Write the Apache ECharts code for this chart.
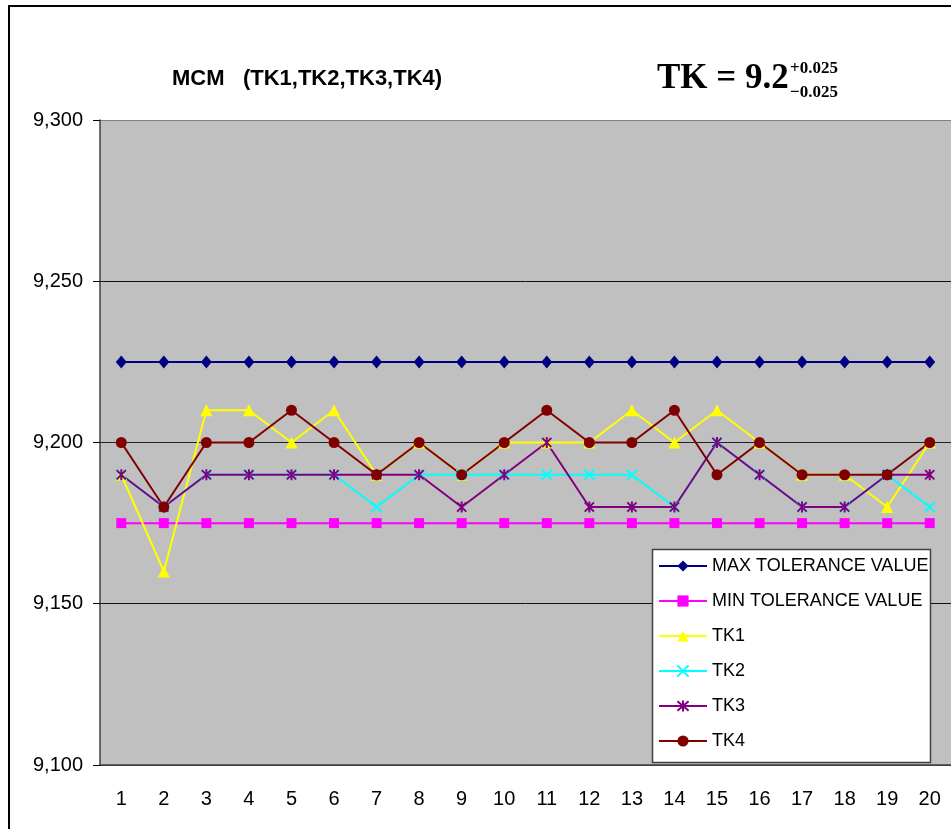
<!DOCTYPE html>
<html>
<head>
<meta charset="utf-8">
<script src="https://cdn.jsdelivr.net/npm/echarts@6/dist/echarts.min.js"></script>
<style>
  html, body { margin: 0; padding: 0; background: #fff; }
  #chart { width: 951px; height: 829px; }
</style>
</head>
<body>
<div id="chart"></div>
<script>
  // measurement points 1..20
  const categories = ['1', '2', '3', '4', '5', '6', '7', '8', '9', '10',
    '11', '12', '13', '14', '15', '16', '17', '18', '19', '20']
  const maxTolerance = [9.225, 9.225, 9.225, 9.225, 9.225, 9.225, 9.225, 9.225, 9.225, 9.225,
    9.225, 9.225, 9.225, 9.225, 9.225, 9.225, 9.225, 9.225, 9.225, 9.225]
  const minTolerance = [9.175, 9.175, 9.175, 9.175, 9.175, 9.175, 9.175, 9.175, 9.175, 9.175,
    9.175, 9.175, 9.175, 9.175, 9.175, 9.175, 9.175, 9.175, 9.175, 9.175]
  const tk1 = [9.19, 9.16, 9.21, 9.21, 9.20, 9.21, 9.19, 9.20, 9.19, 9.20,
    9.20, 9.20, 9.21, 9.20, 9.21, 9.20, 9.19, 9.19, 9.18, 9.20]
  const tk2 = [9.19, 9.18, 9.19, 9.19, 9.19, 9.19, 9.18, 9.19, 9.19, 9.19,
    9.19, 9.19, 9.19, 9.18, 9.20, 9.19, 9.18, 9.18, 9.19, 9.18]
  const tk3 = [9.19, 9.18, 9.19, 9.19, 9.19, 9.19, 9.19, 9.19, 9.18, 9.19,
    9.20, 9.18, 9.18, 9.18, 9.20, 9.19, 9.18, 9.18, 9.19, 9.19]
  const tk4 = [9.20, 9.18, 9.20, 9.20, 9.21, 9.20, 9.19, 9.20, 9.19, 9.20,
    9.21, 9.20, 9.20, 9.21, 9.19, 9.20, 9.19, 9.19, 9.19, 9.20]

  const sans = "'Liberation Sans', Arial, sans-serif"
  const serif = "'Liberation Serif', 'Times New Roman', serif"

  const crossPath = 'path://M0,0L10,10M10,0L0,10'
  const starPath = 'path://M0,0L10,10M10,0L0,10M5,-1L5,11'

  const lineSeries = (name, data, color, symbol, size, stroked) => ({
    name: name,
    type: 'line',
    data: data,
    symbol: symbol,
    symbolSize: size,
    symbolKeepAspect: true,
    lineStyle: { color: color, width: 2 },
    itemStyle: stroked
      ? { color: color, borderColor: color, borderWidth: 2 }
      : { color: color, borderWidth: 0 }
  })

  const chart = echarts.init(document.getElementById('chart'), null, { renderer: 'canvas' })
  const option = {
    animation: false,
    backgroundColor: '#fff',
    title: {
      text: 'MCM   (TK1,TK2,TK3,TK4)',
      left: 172,
      top: 68,
      padding: 0,
      textStyle: { fontFamily: sans, fontWeight: 'bold', fontSize: 22, color: '#000' }
    },
    grid: {
      left: 100,
      top: 120,
      width: 854,
      height: 645,
      show: true,
      backgroundColor: '#C0C0C0',
      borderWidth: 0
    },
    legend: {
      orient: 'vertical',
      left: 658,
      top: 556,
      padding: 0,
      itemWidth: 48,
      itemHeight: 14,
      itemGap: 15,
      z: 5,
      textStyle: { fontFamily: sans, fontSize: 18, color: '#000', lineHeight: 20 }
    },
    xAxis: {
      type: 'category',
      data: categories,
      boundaryGap: true,
      axisLine: { lineStyle: { color: '#404040', width: 1.5 } },
      axisTick: { alignWithLabel: false, interval: 0, length: 7, lineStyle: { color: '#000' } },
      axisLabel: { interval: 0, margin: 24, fontFamily: sans, fontSize: 20, color: '#000' },
      splitLine: { show: false }
    },
    yAxis: {
      type: 'value',
      min: 9.1,
      max: 9.3,
      interval: 0.05,
      axisLine: { show: true, lineStyle: { color: '#404040', width: 1.5 } },
      axisTick: { show: true, length: 7, lineStyle: { color: '#000' } },
      axisLabel: {
        margin: 17,
        fontFamily: sans,
        fontSize: 20,
        color: '#000',
        formatter: v => v.toFixed(3).replace('.', ',')
      },
      splitLine: {
        show: true,
        lineStyle: { color: ['#404040', '#111', '#222', '#111', '#808080'], width: 1 }
      }
    },
    graphic: [
      {
        type: 'rect',
        z: 0,
        silent: true,
        shape: { x: 9, y: 6, width: 1000, height: 1000 },
        style: { fill: 'none', stroke: '#000', lineWidth: 2 }
      },
      {
        type: 'rect',
        z: 3,
        silent: true,
        shape: { x: 652.5, y: 549.5, width: 278, height: 213 },
        style: { fill: '#fff', stroke: '#404040', lineWidth: 1.5 }
      },
      {
        type: 'text',
        z: 3,
        silent: true,
        style: { x: 657, y: 96, text: 'TK = 9.2', font: 'bold 35px ' + serif, fill: '#000', verticalAlign: 'bottom' }
      },
      {
        type: 'text',
        z: 3,
        silent: true,
        style: { x: 790, y: 69, text: '+0.025', font: 'bold 17px ' + serif, fill: '#000', verticalAlign: 'middle' }
      },
      {
        type: 'text',
        z: 3,
        silent: true,
        style: { x: 790, y: 93, text: '\u22120.025', font: 'bold 17px ' + serif, fill: '#000', verticalAlign: 'middle' }
      }
    ],
    series: [
      lineSeries('MAX TOLERANCE VALUE', maxTolerance, '#000080', 'diamond', [11, 13], false),
      lineSeries('MIN TOLERANCE VALUE', minTolerance, '#FF00FF', 'rect', 10, false),
      lineSeries('TK1', tk1, '#FFFF00', 'triangle', 12, false),
      lineSeries('TK2', tk2, '#00FFFF', crossPath, 10, true),
      lineSeries('TK3', tk3, '#800080', starPath, 11, true),
      lineSeries('TK4', tk4, '#800000', 'circle', 11, false)
    ]
  }
  chart.setOption(option)
</script>
</body>
</html>
